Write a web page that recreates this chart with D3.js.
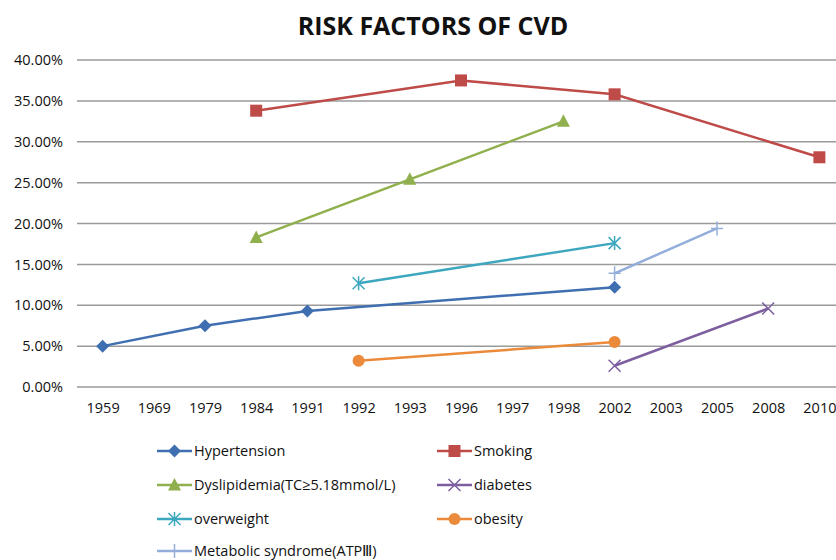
<!DOCTYPE html>
<html>
<head>
<meta charset="utf-8">
<script src="https://cdn.jsdelivr.net/npm/d3@7"></script>
<style>
  body { margin: 0; background: #fff; }
  svg { display: block; font-family: "Open Sans", sans-serif; }
</style>
</head>
<body>
<svg id="chart"></svg>
<script>
const width = 836;
const height = 560;
const margin = { top: 60, right: -9, bottom: 173, left: 77 };

const years = ["1959", "1969", "1979", "1984", "1991", "1992", "1993", "1996", "1997", "1998", "2002", "2003", "2005", "2008", "2010"];
const yTicks = [0, 0.05, 0.10, 0.15, 0.20, 0.25, 0.30, 0.35, 0.40];

// values per year (null = no data)
const hypertension = [0.050, null, 0.075, null, 0.093, null, null, null, null, null, 0.122, null, null, null, null];
const smoking = [null, null, null, 0.338, null, null, null, 0.375, null, null, 0.358, null, null, null, 0.281];
const dyslipidemia = [null, null, null, 0.183, null, null, 0.254, null, null, 0.325, null, null, null, null, null];
const diabetes = [null, null, null, null, null, null, null, null, null, null, 0.026, null, null, 0.096, null];
const overweight = [null, null, null, null, null, 0.127, null, null, null, null, 0.176, null, null, null, null];
const obesity = [null, null, null, null, null, 0.032, null, null, null, null, 0.055, null, null, null, null];
const metabolic = [null, null, null, null, null, null, null, null, null, null, 0.139, null, 0.194, null, null];

const series = [
    { name: "Hypertension", values: hypertension, color: "#3F6FB1", marker: "diamond", col: 0, row: 0 },
    { name: "Smoking", values: smoking, color: "#BE4B48", marker: "square", col: 1, row: 0 },
    { name: "Dyslipidemia(TC≥5.18mmol/L)", values: dyslipidemia, color: "#8FB04C", marker: "triangle", col: 0, row: 1 },
    { name: "diabetes", values: diabetes, color: "#7D5FA0", marker: "x", col: 1, row: 1 },
    { name: "overweight", values: overweight, color: "#3DA7BF", marker: "star", col: 0, row: 2 },
    { name: "obesity", values: obesity, color: "#EB8A3A", marker: "circle", col: 1, row: 2 },
    { name: "Metabolic syndrome(ATPⅢ)", values: metabolic, color: "#93AEDB", marker: "plus", col: 0, row: 3 }
];

const fontSize = "14.5px";

const svg = d3.select("#chart").attr("width", width).attr("height", height);

const x = d3.scalePoint()
    .domain(years)
    .range([margin.left, width - margin.right])
    .padding(0.5);

const y = d3.scaleLinear()
    .domain([0, 0.4])
    .range([height - margin.bottom, margin.top]);

// title
svg.append("text")
    .attr("x", 433).attr("y", 35)
    .attr("text-anchor", "middle")
    .attr("font-size", "25px")
    .attr("font-weight", "bold")
    .attr("fill", "#111")
    .text("RISK FACTORS OF CVD");

// gridlines
svg.append("g")
    .selectAll("line")
    .data(yTicks)
    .enter().append("line")
    .attr("x1", margin.left).attr("x2", width)
    .attr("y1", d => y(d)).attr("y2", d => y(d))
    .attr("stroke", "#9a9a9a").attr("stroke-width", 1.5);

// y axis
const yAxis = svg.append("g")
    .attr("transform", `translate(${margin.left},0)`)
    .call(d3.axisLeft(y).tickValues(yTicks).tickFormat(d3.format(".2%")).tickSize(0).tickPadding(14));
yAxis.select(".domain").remove();
yAxis.selectAll("text").attr("font-size", fontSize).attr("fill", "#111").attr("font-family", "Open Sans, sans-serif");

// x axis
const xAxis = svg.append("g")
    .attr("transform", `translate(0,${y(0)})`)
    .call(d3.axisBottom(x).tickSize(0).tickPadding(16));
xAxis.select(".domain").remove();
xAxis.selectAll("text").attr("font-size", fontSize).attr("fill", "#111").attr("font-family", "Open Sans, sans-serif");

function drawMarker(g, type, color) {
    if (type === "diamond") {
        g.append("path").attr("d", "M0,-6.5L6.5,0L0,6.5L-6.5,0Z").attr("fill", color);
    } else if (type === "square") {
        g.append("rect").attr("x", -6).attr("y", -6).attr("width", 12).attr("height", 12).attr("fill", color);
    } else if (type === "triangle") {
        g.append("path").attr("d", "M0,-7L6.5,5.5L-6.5,5.5Z").attr("fill", color);
    } else if (type === "circle") {
        g.append("circle").attr("r", 6).attr("fill", color);
    } else if (type === "x") {
        g.append("path").attr("d", "M-6,-6L6,6M-6,6L6,-6").attr("stroke", color).attr("stroke-width", 1.5).attr("fill", "none");
    } else if (type === "star") {
        g.append("path").attr("d", "M-6,-6L6,6M-6,6L6,-6M0,-7L0,7").attr("stroke", color).attr("stroke-width", 1.5).attr("fill", "none");
    } else if (type === "plus") {
        g.append("path").attr("d", "M-6,0L6,0M0,-7L0,7").attr("stroke", color).attr("stroke-width", 1.5).attr("fill", "none");
    }
}

const line = d3.line()
    .x(d => x(d.year))
    .y(d => y(d.value));

series.forEach(s => {
    const pts = years.map((yr, i) => ({ year: yr, value: s.values[i] })).filter(d => d.value !== null);
    svg.append("path")
        .datum(pts)
        .attr("fill", "none")
        .attr("stroke", s.color)
        .attr("stroke-width", 2.5)
        .attr("d", line);
    pts.forEach(p => {
        const g = svg.append("g").attr("transform", `translate(${x(p.year)},${y(p.value)})`);
        drawMarker(g, s.marker, s.color);
    });
});

// legend
const legendCols = [157, 437];
const legendRows = [451, 485, 519, 551];
series.forEach(s => {
    const lx = legendCols[s.col];
    const ly = legendRows[s.row];
    const g = svg.append("g");
    g.append("line")
        .attr("x1", lx).attr("x2", lx + 35)
        .attr("y1", ly).attr("y2", ly)
        .attr("stroke", s.color).attr("stroke-width", 2.5);
    const mg = g.append("g").attr("transform", `translate(${lx + 17.5},${ly})`);
    drawMarker(mg, s.marker, s.color);
    g.append("text")
        .attr("x", lx + 37).attr("y", ly)
        .attr("dy", "0.35em")
        .attr("font-size", fontSize)
        .attr("fill", "#111")
        .text(s.name);
});
</script>
</body>
</html>
